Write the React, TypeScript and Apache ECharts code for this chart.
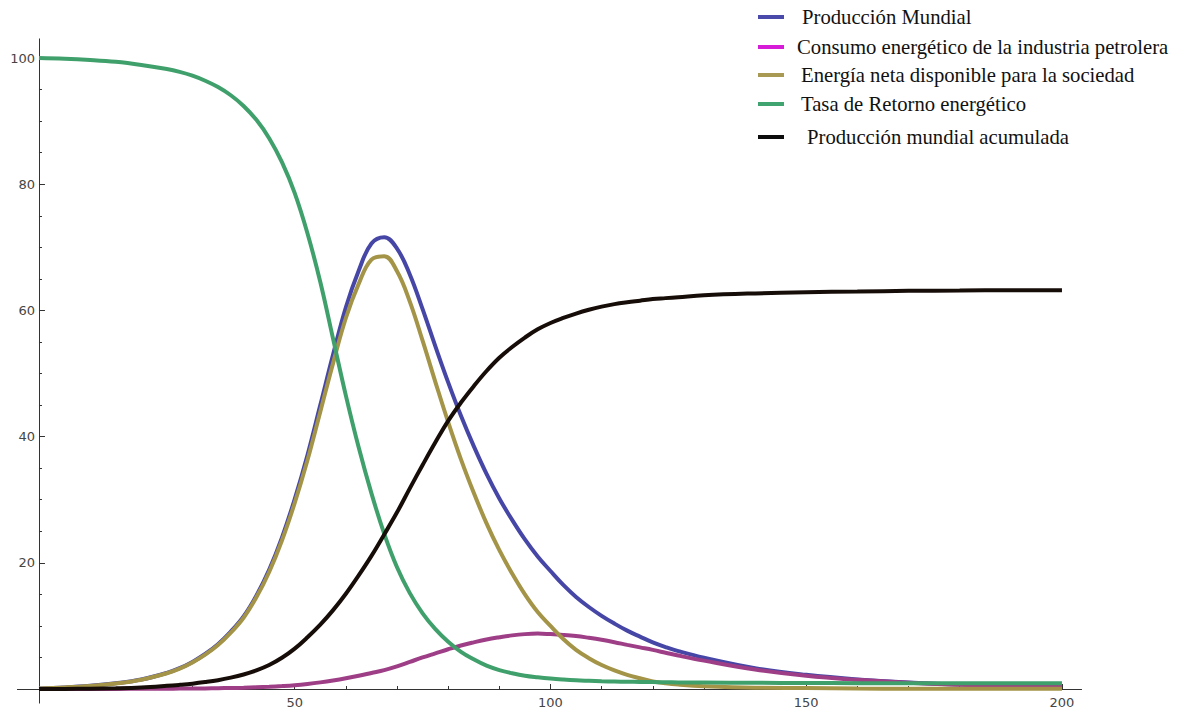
import React, { useEffect, useRef } from "react";
import * as echarts from "echarts";

// time axis (years from start of model)
const t = [0, 5, 10, 15, 20, 25, 27.5, 30, 32.5, 35, 37.5, 40, 42.5, 45, 47.5, 50, 52.5, 55, 57.5, 60, 62.5, 65, 67.5, 70, 72.5, 75, 77.5, 80, 82.5, 85, 87.5, 90, 92.5, 95, 97.5, 100, 102.5, 105, 107.5, 110, 112.5, 115, 117.5, 120, 122.5, 125, 130, 140, 150, 160, 170, 180, 190, 200];

const produccionMundial = [0.1, 0.25, 0.5, 0.9, 1.5, 2.55, 3.3, 4.3, 5.55, 7.1, 9.1, 11.5, 14.8, 18.9, 24.0, 30.1, 37.1, 45, 53, 60.5, 66.3, 70.6, 71.6, 69.8, 65.7, 60.2, 54.3, 48.6, 43.3, 38.5, 34.1, 30.2, 26.8, 23.7, 21.0, 18.7, 16.5, 14.6, 13.0, 11.6, 10.37, 9.25, 8.3, 7.4, 6.65, 6.0, 4.95, 3.3, 2.25, 1.52, 1.03, 0.71, 0.49, 0.34];

const consumoIndustria = [0, 0.005, 0.01, 0.02, 0.03, 0.05, 0.065, 0.08, 0.1, 0.13, 0.16, 0.2, 0.27, 0.35, 0.46, 0.6, 0.8, 1.05, 1.35, 1.7, 2.1, 2.55, 3.0, 3.6, 4.3, 5.0, 5.65, 6.3, 6.9, 7.4, 7.85, 8.2, 8.5, 8.7, 8.78, 8.7, 8.58, 8.4, 8.12, 7.8, 7.42, 7.0, 6.6, 6.2, 5.75, 5.3, 4.5, 3.1, 2.1, 1.45, 0.98, 0.67, 0.46, 0.31];

const energiaNeta = [0.1, 0.25, 0.49, 0.88, 1.47, 2.5, 3.24, 4.22, 5.45, 6.97, 8.94, 11.3, 14.53, 18.55, 23.54, 29.5, 36.3, 43.95, 51.65, 58.8, 64.2, 68.05, 68.6, 66.2, 61.4, 55.2, 48.65, 42.3, 36.4, 31.1, 26.25, 22.0, 18.3, 15.0, 12.2, 10.0, 7.92, 6.2, 4.88, 3.8, 2.95, 2.25, 1.7, 1.2, 0.9, 0.7, 0.45, 0.2, 0.15, 0.07, 0.05, 0.04, 0.03, 0.03];

const tasaRetorno = [100, 99.9, 99.7, 99.4, 98.9, 98.25, 97.8, 97.2, 96.4, 95.4, 94.1, 92.4, 90.2, 87.3, 83.5, 78.6, 72.2, 64.5, 55.5, 46.5, 38.3, 31, 24.6, 19.3, 15.2, 12.0, 9.5, 7.5, 5.9, 4.7, 3.7, 3.0, 2.5, 2.1, 1.85, 1.65, 1.5, 1.38, 1.3, 1.23, 1.19, 1.15, 1.12, 1.1, 1.07, 1.05, 1.02, 0.98, 0.95, 0.93, 0.92, 0.91, 0.9, 0.9];

const produccionAcumulada = [0, 0.02, 0.05, 0.12, 0.25, 0.5, 0.66, 0.85, 1.1, 1.4, 1.8, 2.3, 2.95, 3.8, 4.95, 6.4, 8.2, 10.2, 12.5, 15.1, 18, 21.1, 24.5, 28, 31.8, 35.5, 39.1, 42.5, 45.4, 48, 50.4, 52.5, 54.2, 55.7, 57, 58, 58.8, 59.5, 60.1, 60.6, 61.0, 61.3, 61.55, 61.8, 61.95, 62.1, 62.4, 62.7, 62.9, 63.0, 63.1, 63.15, 63.2, 63.2];

const seriesNames = [
  "Producción Mundial",
  "Consumo energético de la industria petrolera",
  "Energía neta disponible para la sociedad",
  "Tasa de Retorno energético",
  "Producción mundial acumulada",
];

const xMajorTicks = [50, 100, 150, 200];
const xMinorTicks = [10, 20, 30, 40, 60, 70, 80, 90, 110, 120, 130, 140, 160, 170, 180, 190];
const yMajorTicks = [20, 40, 60, 80, 100];
const yMinorTicks = [5, 10, 15, 25, 30, 35, 45, 50, 55, 65, 70, 75, 85, 90, 95];

const lineColors = ["#4646a6", "#9e3e86", "#a39447", "#40a06c", "#170d08"];
const legendColors = ["#4a4aaa", "#d61cd6", "#a89a52", "#3fa470", "#0d0d0d"];

export default function App() {
  const ref = useRef<HTMLDivElement>(null);
  useEffect(() => {
    const chart = echarts.init(ref.current!, null, { renderer: "svg" });
    const values = [produccionMundial, consumoIndustria, energiaNeta, tasaRetorno, produccionAcumulada];
    const mk = (vals: number[]) => t.map((x, i) => [x, vals[i]]);
    const gridRect = { left: 17.5, top: 39.1, width: 1063.9, height: 663.8, containLabel: false, outerBoundsMode: "none" };
    const xRange = { min: -4.2, max: 203.8 };
    const yRange = { min: -2.2, max: 103 };
    const axisLine = { onZero: true, lineStyle: { color: "#333", width: 1 } };
    const labelFont = { fontFamily: "DejaVu Sans", fontSize: 13, color: "#454545" };

    const legendRows = [17, 47, 75, 104, 137];
    const legendPads = [13, 8, 12, 12, 18];

    const option: any = {
      animation: false,
      backgroundColor: "#ffffff",
      grid: [{ ...gridRect }, { ...gridRect }],
      xAxis: [
        {
          type: "value", gridIndex: 0, ...xRange,
          axisLine,
          axisTick: { show: true, inside: true, length: 5, customValues: xMajorTicks, lineStyle: { color: "#333" } },
          axisLabel: { show: true, customValues: xMajorTicks, margin: -6.5, ...labelFont },
          splitLine: { show: false },
        },
        {
          type: "value", gridIndex: 1, ...xRange,
          axisLine,
          axisTick: { show: true, inside: true, length: 3, customValues: xMinorTicks, lineStyle: { color: "#333" } },
          axisLabel: { show: false },
          splitLine: { show: false },
        },
      ],
      yAxis: [
        {
          type: "value", gridIndex: 0, ...yRange,
          axisLine,
          axisTick: { show: true, inside: true, length: 6, customValues: yMajorTicks, lineStyle: { color: "#333" } },
          axisLabel: { show: true, customValues: yMajorTicks, margin: -17.5, ...labelFont },
          splitLine: { show: false },
        },
        {
          type: "value", gridIndex: 1, ...yRange,
          axisLine,
          axisTick: { show: true, inside: true, length: 3, customValues: yMinorTicks, lineStyle: { color: "#333" } },
          axisLabel: { show: false },
          splitLine: { show: false },
        },
      ],
      legend: seriesNames.map((name, i) => ({
        left: 758,
        top: legendRows[i] - 11,
        padding: 0,
        itemWidth: 26,
        itemHeight: 4,
        selectedMode: false,
        textStyle: { fontFamily: "Liberation Serif", fontSize: 20.7, lineHeight: 22, color: "#111" },
        data: [
          {
            name,
            icon: "rect",
            itemStyle: { color: legendColors[i], borderWidth: 0 },
            textStyle: { padding: [0, 0, 0, legendPads[i]] },
          },
        ],
      })),
      series: seriesNames.map((name, i) => ({
        name,
        type: "line",
        xAxisIndex: 0,
        yAxisIndex: 0,
        data: mk(values[i]),
        showSymbol: false,
        symbol: "none",
        smooth: 0.4,
        silent: true,
        emphasis: { disabled: true },
        lineStyle: { color: lineColors[i], width: 4 },
        itemStyle: { color: lineColors[i] },
      })),
    };
    chart.setOption(option);
    return () => chart.dispose();
  }, []);
  return (
    <div
      ref={ref}
      style={{ position: "fixed", left: 0, top: 0, width: 1177, height: 713, background: "#fff" }}
    />
  );
}
